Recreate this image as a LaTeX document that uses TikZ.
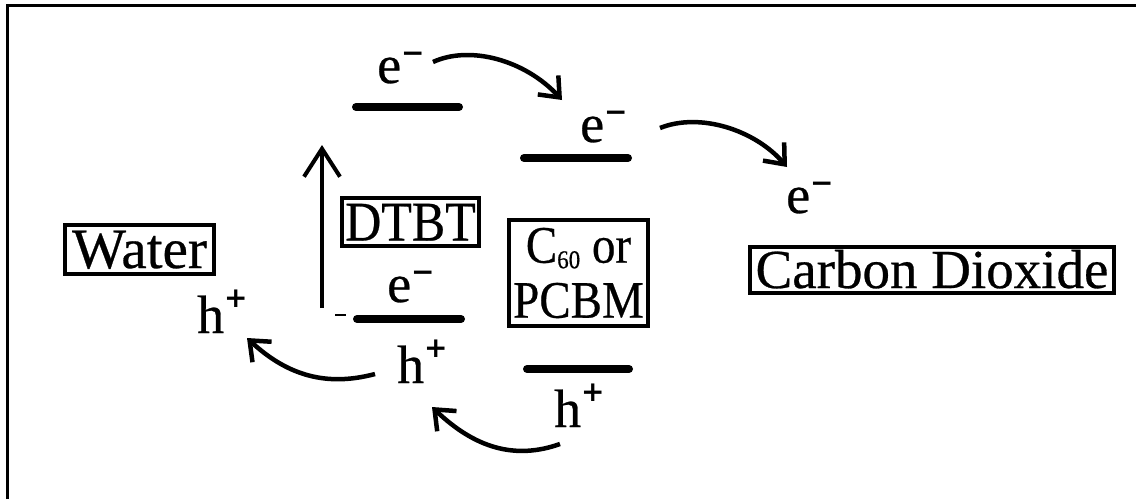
\documentclass[tikz,border=0pt]{standalone}
\usepackage{fontspec}
\setmainfont{Liberation Serif}[FakeBold=0.5]
\newfontfamily\symfont{DejaVu Sans}
\usetikzlibrary{arrows.meta}
\newcommand{\elec}{e\raisebox{21pt}{\fontsize{28}{28}\symfont\bfseries −}}
\newcommand{\hole}{h\raisebox{26pt}{\fontsize{28}{28}\symfont\bfseries +}}
\newcommand{\tall}[1]{\scalebox{1}[1.12]{#1}}
\begin{document}
\begin{tikzpicture}[x=1pt,y=-1pt,
  box/.style={draw,line width=4.5pt,inner sep=0pt},
  level/.style={line width=8pt,line cap=round},
  lbl/.style={anchor=base west,inner sep=0pt,font=\fontsize{54}{54}\selectfont},
  flow/.style={line width=4.5pt,-{Straight Barb[length=17pt,width=28pt,line width=4.5pt]}},
  vflow/.style={line width=4pt,-{Straight Barb[length=28pt,width=36pt,line width=4pt]}},
  frame/.style={line width=3pt}
]
\useasboundingbox (0,0) rectangle (1136,499);
% frame
\coordinate (fbl) at (7,499);
\coordinate (ftl) at (7,5);
\coordinate (ftr) at (1136,5);
\draw[frame] (fbl) -- (ftl) -- (ftr);

% boxes
\node[box,minimum width=149pt,minimum height=49pt,text height=37pt,text depth=0pt,
      font=\fontsize{57}{57}\selectfont] (water) at (139.5,249.5) {Water};
\node[box,minimum width=137pt,minimum height=48pt,text height=37pt,text depth=0pt,
      font=\fontsize{50}{50}\selectfont] (dtbt) at (410.5,222) {\tall{DTBT}};
\node[box,minimum width=139pt,minimum height=106pt,align=center,
      font=\fontsize{47}{55}\selectfont] (c60) at (578.5,273)
      {\tall{C\raisebox{-5pt}{\fontsize{23}{23}\selectfont 60} or}\\\tall{PCBM}};
\node[box,minimum width=364pt,minimum height=46pt,text height=36pt,text depth=0pt,
      font=\fontsize{55}{55}\selectfont] (co2) at (932,270) {Carbon Dioxide};

% energy levels
\coordinate (l1a) at (356,107); \coordinate (l1b) at (459,107);
\coordinate (l2a) at (524,158); \coordinate (l2b) at (628,158);
\coordinate (l3a) at (357,319); \coordinate (l3b) at (461,319);
\coordinate (l4a) at (527,369); \coordinate (l4b) at (629,369);
\draw[level] (l1a) -- (l1b);
\draw[level] (l2a) -- (l2b);
\draw[level] (l3a) -- (l3b);
\draw[level] (l4a) -- (l4b);

% labels
\node[lbl] (e1) at (377,83) {\elec};
\node[lbl] (e2) at (580,142) {\elec};
\node[lbl] (e3) at (786,213) {\elec};
\node[lbl] (e4) at (387,302) {\elec};
\node[lbl] (h1) at (197,333) {\hole};
\node[lbl] (h2) at (397,383) {\hole};
\node[lbl] (h3) at (554,427) {\hole};

% connectors
\coordinate (p1s) at (433,62);  \coordinate (p1e) at (562,100);
\coordinate (p2s) at (660,128); \coordinate (p2e) at (787,167);
\coordinate (p3s) at (375,374); \coordinate (p3e) at (247,338);
\coordinate (p4s) at (560,444); \coordinate (p4e) at (432,407);
\coordinate (vs) at (322,308);  \coordinate (ve) at (322,145);
\draw[flow] (p1s) .. controls (470,45) and (525,60) .. (p1e);
\draw[flow] (p2s) .. controls (700,112) and (755,130) .. (p2e);
\draw[flow] (p3s) .. controls (330,386) and (290,378) .. (p3e);
\draw[flow] (p4s) .. controls (515,460) and (475,448) .. (p4e);
\draw[vflow] (vs) -- (ve);

% small stray dash
\coordinate (d1) at (335,315); \coordinate (d2) at (346,315);
\draw[line width=1.5pt] (d1) -- (d2);
\end{tikzpicture}
\end{document}
